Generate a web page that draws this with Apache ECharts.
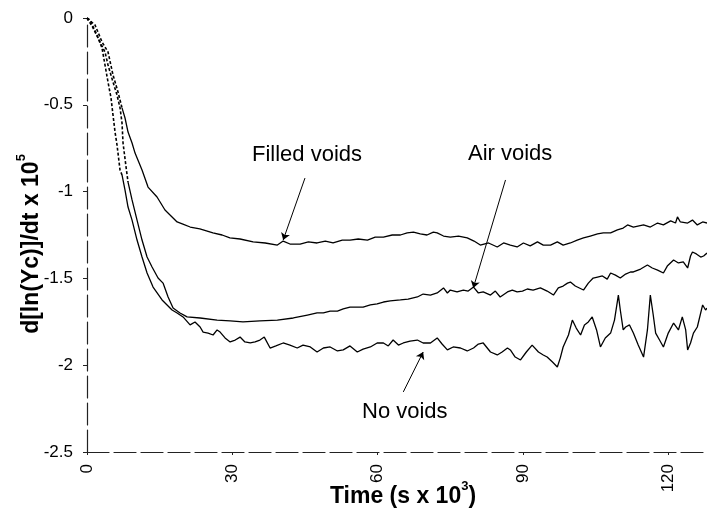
<!DOCTYPE html>
<html>
<head>
<meta charset="utf-8">
<script src="https://cdn.jsdelivr.net/npm/echarts@6/dist/echarts.min.js"></script>
<style>
html,body{margin:0;padding:0;background:#fff;}
#chart{width:707px;height:517px;}
</style>
</head>
<body>
<div id="chart"></div>
<script>
// ---- data (time in s x 10^3, value d[ln(Yc)]/dt x 10^5) ----
var xTicks = [0, 30, 60, 90, 120];
var yTicks = [0, -0.5, -1, -1.5, -2, -2.5];

var filledEarly = [[0,0],[1.65,-0.04],[3.1,-0.138],[4.34,-0.196],[5.37,-0.328],[6.4,-0.426],[7.23,-0.518]];
var filledMain = [[7.23,-0.518],[7.85,-0.576],[8.47,-0.657],[9.3,-0.72],[9.92,-0.778],[11.36,-0.876],[12.6,-0.974],[14.46,-1.031],[16.1,-1.106],[17.77,-1.152],[18.6,-1.175],[19.8,-1.187],[21.3,-1.204],[23.3,-1.215],[26.0,-1.238],[27.9,-1.25],[29.5,-1.267],[31.6,-1.273],[34.3,-1.29],[36.8,-1.296],[39.3,-1.308],[40.5,-1.285],[41.9,-1.302],[44.0,-1.302],[45.7,-1.29],[47.5,-1.296],[49.2,-1.285],[50.8,-1.296],[52.7,-1.279],[54.3,-1.279],[56.0,-1.273],[57.9,-1.279],[59.5,-1.262],[61.2,-1.262],[63.0,-1.25],[64.7,-1.25],[66.1,-1.238],[67.4,-1.233],[68.8,-1.244],[70.2,-1.25],[71.5,-1.233],[72.3,-1.238],[73.6,-1.256],[75.0,-1.262],[76.7,-1.256],[78.5,-1.267],[79.9,-1.285],[81.2,-1.308],[82.9,-1.296],[84.7,-1.319],[86.0,-1.296],[87.4,-1.308],[88.8,-1.319],[90.1,-1.296],[91.5,-1.313],[93.0,-1.29],[94.2,-1.308],[95.7,-1.308],[97.1,-1.29],[98.3,-1.308],[99.8,-1.296],[101.2,-1.279],[102.5,-1.267],[103.9,-1.256],[105.4,-1.244],[106.6,-1.238],[108.1,-1.238],[109.5,-1.221],[110.7,-1.21],[111.6,-1.192],[112.8,-1.204],[114.9,-1.192],[116.3,-1.204],[117.8,-1.181],[119.0,-1.192],[120.5,-1.169],[121.5,-1.181],[121.9,-1.146],[122.5,-1.175],[124.0,-1.181],[125.0,-1.164],[126.0,-1.192],[127.1,-1.175],[128,-1.181]];

var airEarly = [[0,0],[1.03,-0.046],[2.27,-0.115],[3.72,-0.196],[4.34,-0.271],[5.37,-0.369],[6.2,-0.444],[6.82,-0.518],[7.23,-0.605],[7.44,-0.72],[8.06,-0.858],[8.47,-0.945]];
var airMain = [[8.47,-0.945],[9.3,-1.048],[10.33,-1.164],[11.36,-1.279],[12.4,-1.377],[13.43,-1.434],[14.67,-1.498],[15.7,-1.527],[16.74,-1.607],[17.77,-1.671],[19.2,-1.699],[20.66,-1.722],[23.35,-1.728],[26.86,-1.74],[29.55,-1.745],[32.2,-1.751],[35.7,-1.745],[39.3,-1.74],[42.6,-1.728],[45.5,-1.711],[47.5,-1.699],[48.8,-1.699],[50.2,-1.688],[51.7,-1.688],[52.9,-1.676],[54.3,-1.665],[55.8,-1.665],[57.0,-1.665],[58.5,-1.653],[59.9,-1.647],[61.2,-1.636],[62.6,-1.63],[64.7,-1.624],[66.3,-1.619],[68.2,-1.607],[69.4,-1.59],[70.9,-1.596],[72.3,-1.584],[73.6,-1.555],[74.4,-1.584],[75.0,-1.567],[76.4,-1.578],[77.7,-1.567],[78.7,-1.573],[79.8,-1.55],[80.8,-1.584],[81.8,-1.578],[83.3,-1.596],[84.3,-1.573],[85.3,-1.607],[86.8,-1.578],[87.8,-1.567],[88.8,-1.578],[89.9,-1.573],[90.9,-1.561],[92.1,-1.567],[93.6,-1.555],[95.0,-1.573],[96.3,-1.596],[97.3,-1.555],[98.3,-1.544],[99.2,-1.527],[99.8,-1.521],[100.8,-1.544],[102.5,-1.567],[103.5,-1.527],[104.5,-1.498],[105.4,-1.492],[106.4,-1.486],[107.4,-1.504],[108.1,-1.469],[109.1,-1.481],[110.1,-1.498],[111.2,-1.475],[112.2,-1.463],[112.8,-1.463],[114.3,-1.446],[115.7,-1.423],[116.7,-1.44],[117.8,-1.452],[119.0,-1.469],[119.8,-1.429],[121.1,-1.394],[122.1,-1.411],[123.1,-1.405],[124.0,-1.44],[124.6,-1.371],[125.0,-1.348],[125.8,-1.359],[126.7,-1.377],[127.3,-1.371],[128,-1.354]];

var noEarly = [[0,0],[0.62,-0.012],[2.07,-0.098],[3.1,-0.173],[3.72,-0.271],[4.34,-0.369],[4.96,-0.461],[5.37,-0.559],[5.79,-0.657],[6.2,-0.732],[6.82,-0.876],[7.23,-0.904]];
var noMain = [[7.23,-0.904],[7.85,-0.991],[8.47,-1.089],[9.3,-1.164],[10.33,-1.279],[11.36,-1.377],[12.4,-1.469],[13.64,-1.55],[15.5,-1.624],[17.56,-1.682],[18.6,-1.699],[19.83,-1.722],[21.28,-1.768],[22.3,-1.751],[23.35,-1.78],[23.97,-1.809],[25.0,-1.815],[26.03,-1.826],[26.86,-1.797],[27.48,-1.809],[28.5,-1.843],[29.55,-1.866],[30.6,-1.855],[31.6,-1.838],[32.6,-1.866],[33.7,-1.872],[34.7,-1.866],[35.7,-1.855],[36.6,-1.838],[37.8,-1.901],[39.0,-1.889],[40.5,-1.872],[41.9,-1.884],[43.4,-1.901],[44.6,-1.884],[46.1,-1.895],[47.5,-1.924],[48.8,-1.901],[50.2,-1.895],[51.7,-1.918],[52.9,-1.912],[54.3,-1.889],[55.8,-1.924],[57.0,-1.907],[58.5,-1.895],[59.9,-1.872],[61.2,-1.872],[62.2,-1.889],[63.2,-1.855],[64.3,-1.884],[65.3,-1.872],[66.7,-1.861],[68.2,-1.855],[69.4,-1.872],[70.9,-1.872],[72.3,-1.843],[73.3,-1.878],[74.4,-1.912],[75.6,-1.895],[77.1,-1.901],[78.5,-1.918],[79.8,-1.901],[80.8,-1.878],[81.8,-1.872],[83.3,-1.924],[84.7,-1.941],[85.7,-1.924],[86.8,-1.901],[87.4,-1.912],[88.4,-1.953],[89.5,-1.97],[90.7,-1.924],[91.9,-1.884],[93.2,-1.924],[94.2,-1.941],[95.0,-1.953],[96.1,-1.982],[97.1,-2.01],[97.7,-1.959],[98.3,-1.895],[99.4,-1.826],[100.2,-1.74],[101.0,-1.786],[101.9,-1.826],[102.7,-1.768],[103.5,-1.751],[104.3,-1.722],[105.2,-1.797],[106.0,-1.895],[107.0,-1.843],[108.1,-1.815],[108.9,-1.74],[109.7,-1.596],[110.1,-1.682],[110.7,-1.797],[111.2,-1.78],[112.0,-1.768],[112.8,-1.815],[113.8,-1.884],[114.9,-1.953],[115.7,-1.797],[116.3,-1.596],[116.9,-1.711],[117.4,-1.815],[118.2,-1.855],[119.0,-1.895],[120.0,-1.815],[121.1,-1.757],[122.1,-1.797],[122.9,-1.722],[123.6,-1.797],[124.0,-1.912],[124.6,-1.872],[125.2,-1.815],[126.0,-1.78],[127.1,-1.653],[127.7,-1.682],[128,-1.671]];

// annotation arrows: [tail, head] in data units
var filledArrow = [[45.0,-0.922],[40.5,-1.279]];
var airArrow = [[86.4,-0.933],[79.75,-1.555]];
var noArrow = [[65.3,-2.154],[69.4,-1.924]];

var FONT = '"Liberation Sans", Arial, sans-serif';
var chart = echarts.init(document.getElementById('chart'), null, {renderer:'canvas'});

function solid(name, data, arrow){
  var s = {
    name: name, type:'line', data:data, showSymbol:false, symbol:'none',
    lineStyle:{color:'#000', width:1.3}, animation:false, z:3
  };
  if (arrow) {
    s.markLine = {
      silent:true, symbol:['none','arrow'], symbolSize:7, animation:false,
      label:{show:false},
      lineStyle:{color:'#000', width:1, type:'solid'},
      data:[[{coord:arrow[0]},{coord:arrow[1]}]]
    };
  }
  return s;
}
function dotted(name, data){
  return {
    name: name, type:'line', data:data, showSymbol:false, symbol:'none',
    lineStyle:{color:'#000', width:1.6, type:[3,2]}, animation:false, z:3
  };
}

var titleRich = {
  a:{fontFamily:FONT, fontWeight:'bold', fontSize:23, color:'#000', lineHeight:28, verticalAlign:'bottom'},
  s:{fontFamily:FONT, fontWeight:'bold', fontSize:13, color:'#000', lineHeight:28, verticalAlign:'top'}
};

var option = {
  backgroundColor:'#fff',
  animation:false,
  grid:{left:87, right:0, top:18, bottom:65, containLabel:false, outerBoundsMode:'none'},
  xAxis:{
    type:'value', min:0, max:128, interval:30,
    name:'{a|Time (s x 10}{s|3}{a|)}',
    nameLocation:'middle', nameGap:28, nameMoveOverlap:false,
    nameTextStyle:{ padding:[0,0,0,12], rich:titleRich },
    axisLine:{show:true, onZero:false, lineStyle:{color:'#222', width:1.2, type:[22,5]}},
    axisTick:{show:true, length:3, lineStyle:{color:'#222'}},
    axisLabel:{
      rotate:90, margin:12, fontFamily:FONT, fontSize:17, color:'#000',
      showMaxLabel:false,
      formatter:function(v){ return xTicks.indexOf(v) >= 0 ? String(v) : ''; }
    },
    splitLine:{show:false}
  },
  yAxis:{
    type:'value', min:-2.5, max:0, interval:0.5,
    name:'{a|d[ln(Yc)]/dt x 10}{s|5}',
    nameLocation:'middle', nameGap:44, nameRotate:90, nameMoveOverlap:false,
    nameTextStyle:{ padding:[0,18,0,0], rich:titleRich },
    axisLine:{show:true, onZero:false, lineStyle:{color:'#222', width:1.2, type:[22,5]}},
    axisTick:{show:true, inside:false, length:4, lineStyle:{color:'#222'}},
    axisLabel:{
      margin:14, fontFamily:FONT, fontSize:17, color:'#000',
      formatter:function(v){ return yTicks.indexOf(v) >= 0 ? String(v) : ''; }
    },
    splitLine:{show:false}
  },
  graphic:[
    {type:'text', left:252, top:144, style:{text:'Filled voids', font:'22px '+FONT, fill:'#000'}},
    {type:'text', left:468, top:143, style:{text:'Air voids', font:'22px '+FONT, fill:'#000'}},
    {type:'text', left:362, top:401, style:{text:'No voids', font:'22px '+FONT, fill:'#000'}}
  ],
  series:[
    dotted('Filled voids early', filledEarly),
    solid('Filled voids', filledMain, filledArrow),
    dotted('Air voids early', airEarly),
    solid('Air voids', airMain, airArrow),
    dotted('No voids early', noEarly),
    solid('No voids', noMain, noArrow)
  ]
};
chart.setOption(option);
</script>
</body>
</html>
